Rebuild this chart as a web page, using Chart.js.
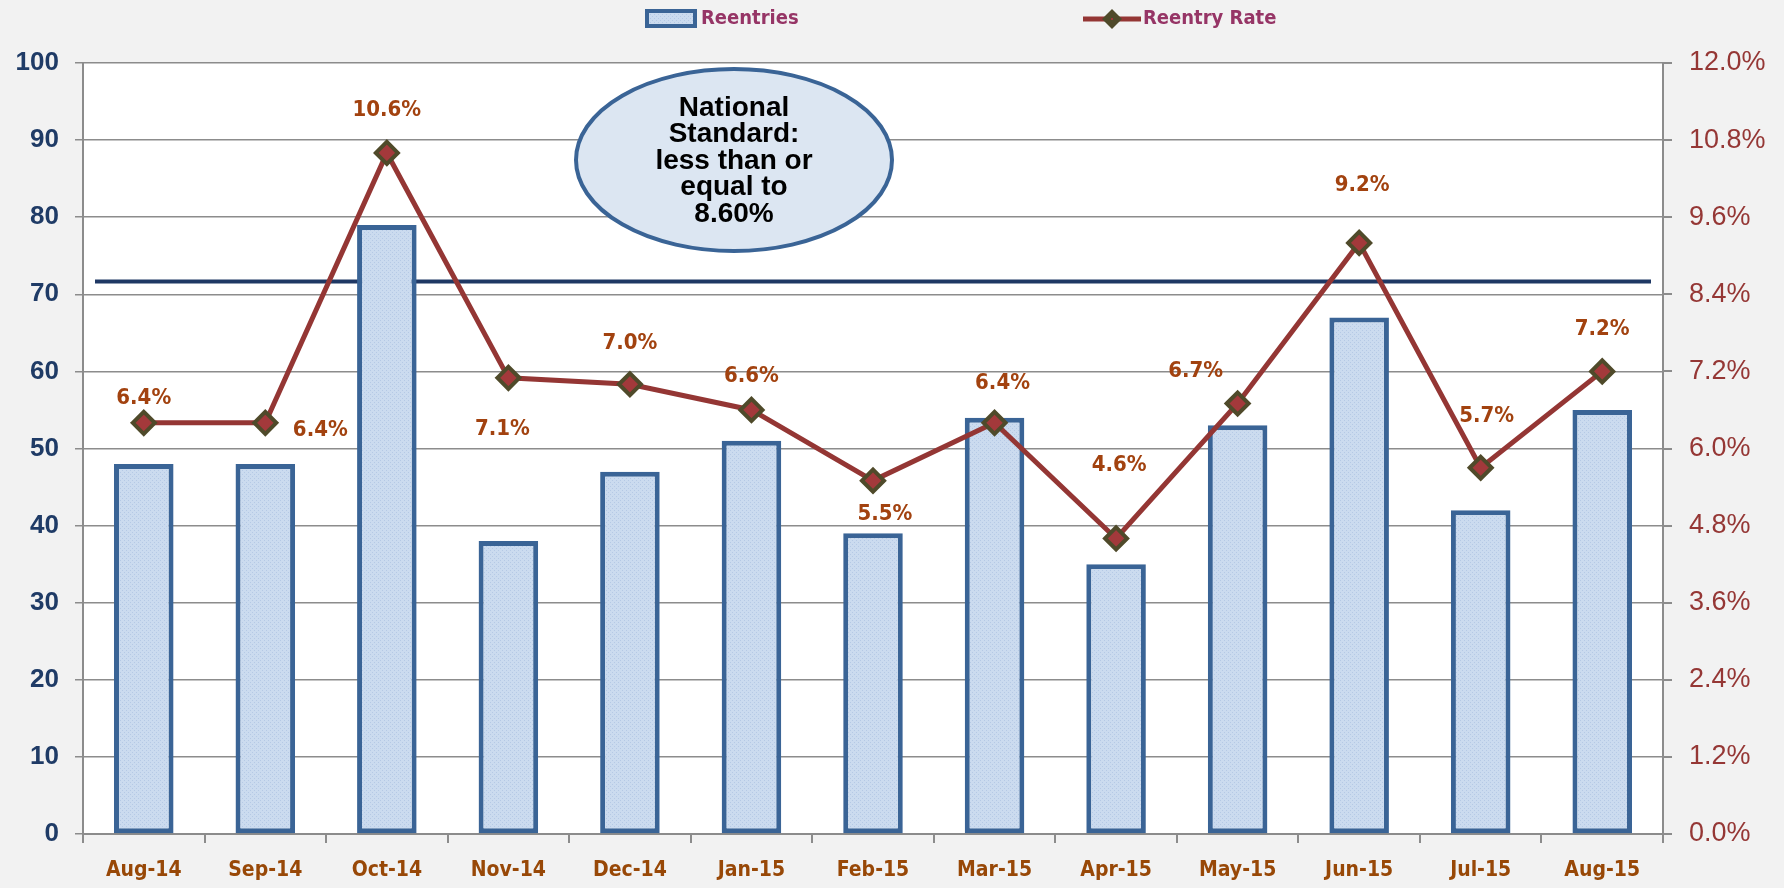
<!DOCTYPE html>
<html>
<head>
<meta charset="utf-8">
<script src="https://cdn.jsdelivr.net/npm/chart.js@4.4.1/dist/chart.umd.min.js"></script>
<style>
  body { margin: 0; background: #f2f2f2; }
  #wrap { width: 1784px; height: 888px; }
</style>
</head>
<body>
<div id="wrap"><canvas id="chart"></canvas></div>
<script>
// data
const months = ["Aug-14", "Sep-14", "Oct-14", "Nov-14", "Dec-14", "Jan-15", "Feb-15",
                "Mar-15", "Apr-15", "May-15", "Jun-15", "Jul-15", "Aug-15"];
const reentries = [48, 48, 79, 38, 47, 51, 39, 54, 35, 53, 67, 42, 55];
const reentryRate = [6.4, 6.4, 10.6, 7.1, 7.0, 6.6, 5.5, 6.4, 4.6, 6.7, 9.2, 5.7, 7.2];
const nationalStandard = 8.6;
const noteLines = ["National", "Standard:", "less than or", "equal to", "8.60%"];

// where each rate label sits relative to its point (dx, dy)
const labelOffsets = [[0, -25], [55, 7], [0, -43], [-6, 51], [0, -41], [0, -34], [12, 34],
                      [8, -40], [3, -73], [-42, -32], [3, -58], [6, -51], [0, -42]];

const narrow = '"Liberation Sans Narrow", "DejaVu Sans Condensed", Lato, sans-serif';
const arial = '"Liberation Sans", Arial, sans-serif';

// dotted light blue fill for bars
const pat = document.createElement("canvas");
pat.width = 4; pat.height = 4;
const pctx = pat.getContext("2d");
pctx.fillStyle = "#cbdbef";
pctx.fillRect(0, 0, 4, 4);
pctx.fillStyle = "#b5c9e5";
pctx.fillRect(0, 0, 1, 1);
pctx.fillRect(2, 2, 1, 1);
const barFill = pctx.createPattern(pat, "repeat");

const bgPlugin = {
  id: "bg",
  beforeDraw(chart) {
    const { ctx, chartArea: a } = chart;
    ctx.save();
    ctx.fillStyle = "#f2f2f2";
    ctx.fillRect(0, 0, chart.width, chart.height);
    ctx.fillStyle = "#ffffff";
    ctx.fillRect(a.left, a.top, a.right - a.left, a.bottom - a.top);
    ctx.restore();
  }
};

const extrasPlugin = {
  id: "extras",
  beforeDatasetsDraw(chart) {
    // national standard line on the rate axis
    const { ctx, chartArea: a } = chart;
    const y = chart.scales.y1.getPixelForValue(nationalStandard);
    ctx.save();
    ctx.strokeStyle = "#1f3864";
    ctx.lineWidth = 4;
    ctx.beginPath();
    ctx.moveTo(a.left + 12, y);
    ctx.lineTo(a.right - 12, y);
    ctx.stroke();
    ctx.restore();
  },
  afterDatasetsDraw(chart) {
    const { ctx, chartArea: a } = chart;
    ctx.save();
    // rate labels
    const meta = chart.getDatasetMeta(1);
    ctx.font = "bold 22px " + narrow;
    ctx.fillStyle = "#a2420f";
    ctx.textAlign = "center";
    ctx.textBaseline = "middle";
    meta.data.forEach((pt, i) => {
      const o = labelOffsets[i];
      ctx.fillText(reentryRate[i].toFixed(1) + "%", pt.x + o[0], pt.y + o[1]);
    });

    // callout ellipse
    const cx = a.left + 651, cy = a.top + 97;
    ctx.beginPath();
    ctx.ellipse(cx, cy, 158, 91, 0, 0, Math.PI * 2);
    ctx.fillStyle = "#dce6f2";
    ctx.fill();
    ctx.lineWidth = 4;
    ctx.strokeStyle = "#3a6496";
    ctx.stroke();
    ctx.fillStyle = "#000000";
    ctx.font = "bold 28px " + arial;
    noteLines.forEach((t, i) => {
      ctx.fillText(t, cx, cy - 52 + i * 26.5);
    });

    // legend
    ctx.fillStyle = barFill;
    ctx.fillRect(647, 11, 48, 15);
    ctx.strokeStyle = "#3a6496";
    ctx.lineWidth = 4;
    ctx.strokeRect(647, 11, 48, 15);
    ctx.strokeStyle = "#943634";
    ctx.lineWidth = 5;
    ctx.beginPath();
    ctx.moveTo(1083, 19);
    ctx.lineTo(1141, 19);
    ctx.stroke();
    ctx.beginPath();
    ctx.moveTo(1112, 9); ctx.lineTo(1122, 19); ctx.lineTo(1112, 29); ctx.lineTo(1102, 19);
    ctx.closePath();
    ctx.fillStyle = "#4f4a2a";
    ctx.fill();
    ctx.fillStyle = "#a0363a";
    ctx.fillRect(1111, 18, 2, 2);
    ctx.font = "bold 20px " + narrow;
    ctx.fillStyle = "#963566";
    ctx.textAlign = "left";
    ctx.fillText("Reentries", 701, 19);
    ctx.fillText("Reentry Rate", 1143, 19);
    ctx.restore();
  }
};

const ctx = document.getElementById("chart").getContext("2d");
new Chart(ctx, {
  data: {
    labels: months,
    datasets: [
      {
        type: "bar",
        label: "Reentries",
        data: reentries,
        yAxisID: "y",
        backgroundColor: barFill,
        borderColor: "#3a6496",
        borderWidth: 5,
        borderSkipped: false,
        categoryPercentage: 1,
        barPercentage: 0.49,
        order: 2
      },
      {
        type: "line",
        label: "Reentry Rate",
        data: reentryRate,
        yAxisID: "y1",
        borderColor: "#943634",
        borderWidth: 5,
        pointStyle: "rectRot",
        pointRadius: 11,
        pointBackgroundColor: "#a3393b",
        pointBorderColor: "#4f4a2a",
        pointBorderWidth: 4,
        tension: 0,
        order: 1
      }
    ]
  },
  options: {
    responsive: true,
    maintainAspectRatio: false,
    animation: false,
    layout: { padding: { top: 63, left: 0, right: 0, bottom: 0 } },
    plugins: {
      legend: { display: false },
      tooltip: { enabled: false }
    },
    scales: {
      x: {
        offset: true,
        grid: { offset: true, drawOnChartArea: false, color: "#8c8c8c", lineWidth: 2, tickLength: 9 },
        border: { color: "#8c8c8c", width: 2 },
        ticks: {
          color: "#984807",
          font: { family: narrow, size: 21, weight: "bold" },
          padding: 15,
          maxRotation: 0
        },
        afterFit(s) { s.height = 54; }
      },
      y: {
        position: "left",
        min: 0,
        max: 100,
        ticks: {
          stepSize: 10,
          color: "#1f3b66",
          font: { family: arial, size: 26, weight: "bold" },
          padding: 16
        },
        grid: { color: "#8c8c8c", lineWidth: 1.5, tickLength: 8 },
        border: { color: "#8c8c8c", width: 2 },
        afterFit(s) { s.width = 83; }
      },
      y1: {
        position: "right",
        min: 0,
        max: 12,
        ticks: {
          stepSize: 1.2,
          color: "#953735",
          font: { family: arial, size: 27 },
          padding: 17,
          callback: (v) => Number(v).toFixed(1) + "%"
        },
        grid: { drawOnChartArea: false, color: "#8c8c8c", lineWidth: 2, tickLength: 9 },
        border: { color: "#8c8c8c", width: 2 },
        afterFit(s) { s.width = 121; }
      }
    }
  },
  plugins: [bgPlugin, extrasPlugin]
});
</script>
</body>
</html>
